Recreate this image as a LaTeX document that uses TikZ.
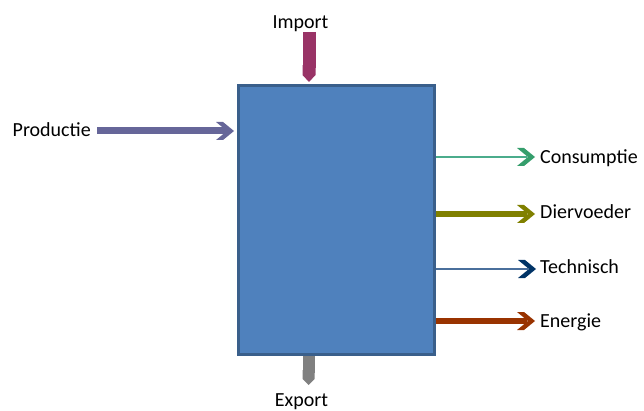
\documentclass[tikz,border=0pt]{standalone}
\usepackage{fontspec}
\setmainfont{Carlito}
\usetikzlibrary{arrows.meta}
\definecolor{boxfill}{HTML}{4F81BD}
\definecolor{boxborder}{HTML}{3A5F8B}
\definecolor{impcol}{HTML}{993366}
\definecolor{expcol}{HTML}{808080}
\definecolor{prodcol}{HTML}{666699}
\definecolor{consline}{HTML}{4BAC8C}
\definecolor{conshead}{HTML}{359E6C}
\definecolor{diercol}{HTML}{808000}
\definecolor{techline}{HTML}{4A6F9C}
\definecolor{techhead}{HTML}{003366}
\definecolor{enercol}{HTML}{993300}
\begin{document}
\begin{tikzpicture}[x=1pt,y=-1pt,
  lbl/.style={font=\fontsize{20}{24}\selectfont, inner sep=0pt, text=black},
  thinflow/.style={line width=1.5pt},
  thickflow/.style={line width=6pt},
  chev/.pic={\fill[#1] (-18,-9) -- (-11,-9) -- (0,0) -- (-11,9) -- (-18,9) -- (-7,0) -- cycle;}
]
\useasboundingbox (0,0) rectangle (644,411);

% labels
\node[lbl, anchor=base] (import) at (300.5,29) {Import};
\node[lbl, anchor=base] (export) at (301.5,406) {Export};
\node[lbl, anchor=base west] (prod) at (12.5,137) {Productie};
\node[lbl, anchor=base west] (cons) at (540,164) {Consumptie};
\node[lbl, anchor=base west] (dier) at (540,219) {Diervoeder};
\node[lbl, anchor=base west] (tech) at (540,273) {Technisch};
\node[lbl, anchor=base west] (ener) at (540,327) {Energie};

% coordinates for arrow ends
\coordinate (imptop) at (309,32);
\coordinate (impend) at (309,82);
\coordinate (expstart) at (308.5,352);
\coordinate (expend) at (308.5,385);
\coordinate (prodstart) at (97,131);
\coordinate (prodtip) at (234,131);
\coordinate (constip) at (535,157);
\coordinate (diertip) at (535,214);
\coordinate (techtip) at (536,269);
\coordinate (enertip) at (535,321);

% import / export
\draw[impcol, line width=13pt, -{Triangle Cap[length=7pt]}] (imptop) -- (impend);
\draw[expcol, line width=12pt, -{Triangle Cap[length=6pt]}] (expstart) -- (expend);

% productie
\draw[prodcol, line width=7pt] (prodstart) -- ([xshift=-7pt]prodtip);
\pic at (prodtip) {chev=prodcol};

% box
\node[draw=boxborder, line width=3pt, fill=boxfill, minimum width=196pt, minimum height=269pt, inner sep=0pt, anchor=north west] (box) at (237,84) {};

% outflows
\draw[consline, thinflow] (box.east |- constip) -- ([xshift=-8pt]constip);
\pic at (constip) {chev=conshead};
\draw[diercol, thickflow] (box.east |- diertip) -- ([xshift=-8pt]diertip);
\pic at (diertip) {chev=diercol};
\draw[techline, thinflow] (box.east |- techtip) -- ([xshift=-8pt]techtip);
\pic at (techtip) {chev=techhead};
\draw[enercol, thickflow] (box.east |- enertip) -- ([xshift=-8pt]enertip);
\pic at (enertip) {chev=enercol};
\end{tikzpicture}
\end{document}
